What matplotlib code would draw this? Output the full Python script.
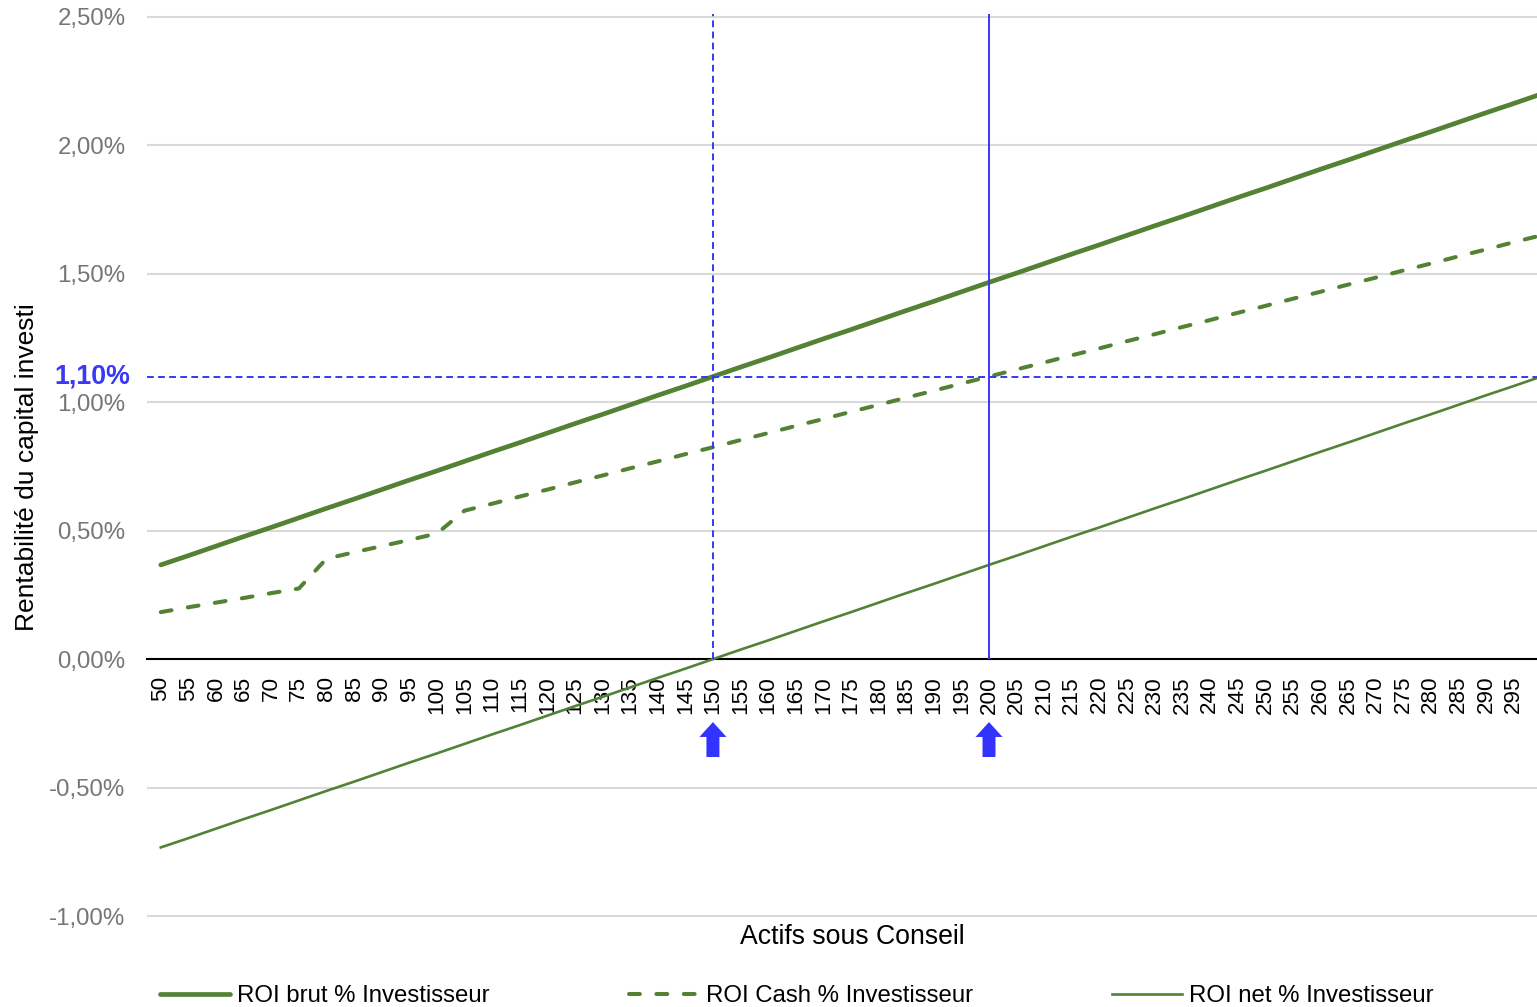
import matplotlib
matplotlib.use("Agg")
import matplotlib.pyplot as plt
from matplotlib.patches import FancyArrow
from matplotlib.ticker import FuncFormatter

plt.rcParams['font.family'] = ['Liberation Sans', 'DejaVu Sans']

# actifs sous conseil (categories), last one (300) is cut by the right edge
actifs = [50, 55, 60, 65, 70, 75, 80, 85, 90, 95,
          100, 105, 110, 115, 120, 125, 130, 135, 140, 145,
          150, 155, 160, 165, 170, 175, 180, 185, 190, 195,
          200, 205, 210, 215, 220, 225, 230, 235, 240, 245,
          250, 255, 260, 265, 270, 275, 280, 285, 290, 295, 300]

# values in %
roi_brut = [0.367, 0.403, 0.440, 0.477, 0.513, 0.550, 0.587, 0.623, 0.660, 0.697,
            0.733, 0.770, 0.807, 0.843, 0.880, 0.917, 0.953, 0.990, 1.027, 1.063,
            1.100, 1.137, 1.173, 1.210, 1.247, 1.283, 1.320, 1.357, 1.393, 1.430,
            1.467, 1.503, 1.540, 1.577, 1.613, 1.650, 1.687, 1.723, 1.760, 1.797,
            1.833, 1.870, 1.907, 1.943, 1.980, 2.017, 2.053, 2.090, 2.127, 2.163, 2.200]

roi_cash = [0.183, 0.202, 0.220, 0.238, 0.257, 0.275, 0.391, 0.416, 0.440, 0.464,
            0.489, 0.578, 0.605, 0.633, 0.660, 0.688, 0.715, 0.743, 0.770, 0.798,
            0.825, 0.853, 0.880, 0.908, 0.935, 0.963, 0.990, 1.018, 1.045, 1.073,
            1.100, 1.128, 1.155, 1.183, 1.210, 1.238, 1.265, 1.293, 1.320, 1.348,
            1.375, 1.403, 1.430, 1.458, 1.485, 1.513, 1.540, 1.568, 1.595, 1.623, 1.650]

roi_net = [-0.733, -0.697, -0.660, -0.623, -0.587, -0.550, -0.513, -0.477, -0.440, -0.403,
           -0.367, -0.330, -0.293, -0.257, -0.220, -0.183, -0.147, -0.110, -0.073, -0.037,
           0.000, 0.037, 0.073, 0.110, 0.147, 0.183, 0.220, 0.257, 0.293, 0.330,
           0.367, 0.403, 0.440, 0.477, 0.513, 0.550, 0.587, 0.623, 0.660, 0.697,
           0.733, 0.770, 0.807, 0.843, 0.880, 0.917, 0.953, 0.990, 1.027, 1.063, 1.100]

seuil = 1.10          # horizontal reference
repere_dash = 150     # dashed vertical
repere_solid = 200    # solid vertical

green = '#548235'
blue = '#3838F5'
gray_txt = '#767676'

W, H = 1537, 1007
fig = plt.figure(figsize=(W / 100, H / 100), dpi=100)
ymin, ymax = -1.01, 2.51
ax_top, ax_bot = 17 - 0.01 * 256.86, 916 + 0.01 * 256.86
ax = fig.add_axes([147 / W, 1 - ax_bot / H, 1 - 147 / W, (ax_bot - ax_top) / H])

# x axis sits on 0 (do this before tick setup, it resets the ticks)
for s in ['top', 'right', 'left']:
    ax.spines[s].set_visible(False)
ax.spines['bottom'].set_position(('data', 0))
ax.spines['bottom'].set_linewidth(1.5)
ax.spines['bottom'].set_zorder(2)

xs = list(range(len(actifs)))

ax.plot(xs, roi_brut, color=green, lw=3.4, solid_capstyle='round', zorder=3,
        label='ROI brut % Investisseur')
ax.plot(xs, roi_cash, color=green, lw=2.9, ls=(0, (2.7, 4.1)), dash_capstyle='round',
        zorder=3, label='ROI Cash % Investisseur')
ax.plot(xs, roi_net, color=green, lw=1.9, zorder=3, label='ROI net % Investisseur')

i150 = actifs.index(repere_dash)
i200 = actifs.index(repere_solid)
ax.vlines(i150, 0, ymax, color=blue, lw=1.4, ls=(0, (3.5, 2.2)), zorder=4)
ax.vlines(i200, 0, ymax, color=blue, lw=1.4, zorder=4)
ax.axhline(seuil, color=blue, lw=1.4, ls=(0, (3.5, 2.2)), zorder=4)

# up arrows under the axis
for i in (i150, i200):
    ax.add_patch(FancyArrow(i, -0.381, 0, 0.136, width=0.47, head_width=0.98,
                            head_length=0.058, length_includes_head=True,
                            color='#3333FF', lw=0, clip_on=False, zorder=5))

ax.set_xlim(-0.5, 49.85)
ax.set_ylim(ymin, ymax)

ax.set_yticks([-1.0, -0.5, 0.0, 0.5, 1.0, 1.5, 2.0, 2.5])
ax.yaxis.set_major_formatter(FuncFormatter(lambda v, p: ('%.2f%%' % v).replace('.', ',')))
ax.set_xticks(xs[:-1])
ax.set_xticklabels([str(a) for a in actifs[:-1]])
ax.tick_params(axis='y', length=0, pad=15.5, labelsize=17.3, labelcolor=gray_txt)
ax.tick_params(axis='x', length=0, pad=12, labelsize=16.2, labelcolor='black',
               labelrotation=90)

ax.grid(axis='y', color='#D9D9D9', lw=1.5, zorder=0)
ax.set_axisbelow(True)

# bold label for the threshold
ax.annotate('1,10%', xy=(0, seuil), xycoords=('axes fraction', 'data'),
            xytext=(-12, 0), textcoords='offset points', ha='right', va='center',
            color=blue, fontsize=19.3, fontweight='bold')

fig.text(852 / W, 1 - 937 / H, 'Actifs sous Conseil', ha='center', va='center',
         fontsize=19.2, color='black')
fig.text(27 / W, 1 - 467 / H, 'Rentabilité du capital investi', ha='center', va='center',
         rotation=90, fontsize=19, color='black')

fig.legend(loc='center left', bbox_to_anchor=(160 / W, 1 - 996 / H), ncol=3,
           frameon=False, fontsize=17.3, handlelength=2.9, handletextpad=0.3,
           columnspacing=5.8, borderpad=0, borderaxespad=0)

fig.savefig('out.png', dpi=100)
